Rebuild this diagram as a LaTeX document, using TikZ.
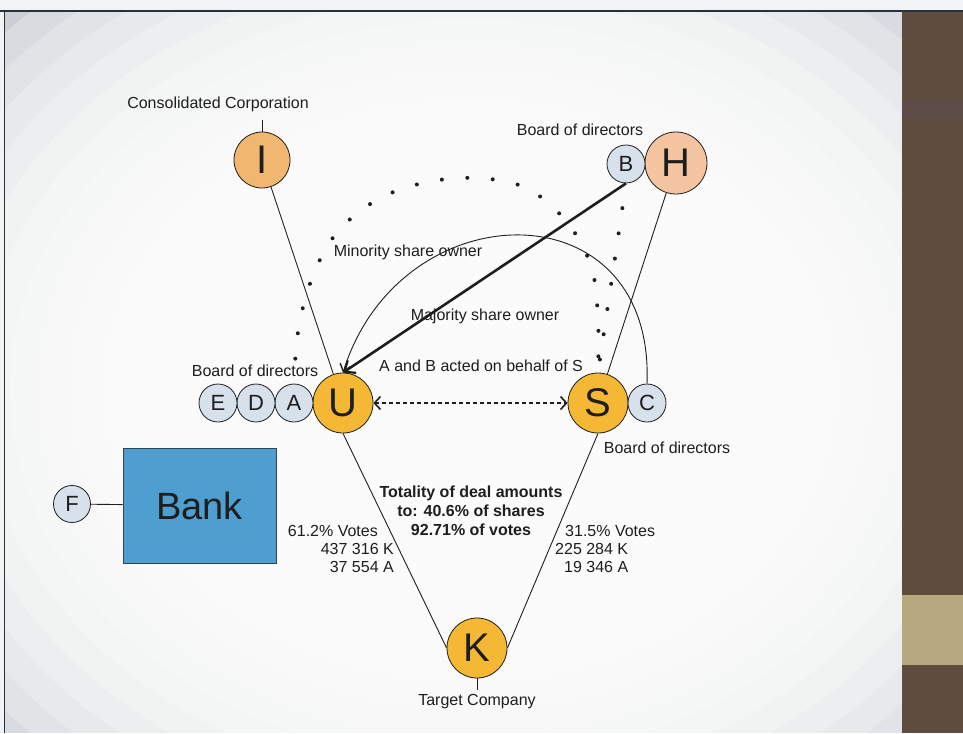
\documentclass[tikz,border=0pt]{standalone}
\usepackage{fontspec}
\setmainfont{Liberation Sans}
\usetikzlibrary{arrows.meta}

\definecolor{ink}{RGB}{30,30,30}
\definecolor{topgrey}{RGB}{242,243,245}
\definecolor{framedark}{RGB}{38,50,60}
\definecolor{panelgrey}{RGB}{204,208,214}
\definecolor{stripbrown}{RGB}{94,76,62}
\definecolor{stripviolet}{RGB}{92,78,92}
\definecolor{stripbeige}{RGB}{184,168,128}
\definecolor{gold}{RGB}{245,184,52}
\definecolor{iorange}{RGB}{241,182,112}
\definecolor{hpeach}{RGB}{245,196,160}
\definecolor{boardblue}{RGB}{214,225,236}
\definecolor{bankblue}{RGB}{78,158,208}
\definecolor{bankedge}{RGB}{45,70,90}

\begin{document}
\begin{tikzpicture}[x=1pt,y=-1pt,
  bigco/.style={circle, draw=ink, line width=0.8pt, minimum size=60pt,
    inner sep=0pt, text=ink, font=\fontsize{40}{40}\selectfont},
  smallco/.style={circle, draw=ink, line width=0.8pt, minimum size=38pt,
    inner sep=0pt, fill=boardblue, text=ink, font=\fontsize{22}{22}\selectfont},
  lbl/.style={font=\fontsize{16}{19}\selectfont, text=ink, inner sep=0pt},
  boldlbl/.style={font=\bfseries\fontsize{16}{19}\selectfont, text=ink,
    inner sep=0pt, align=center},
  bankbox/.style={rectangle, draw=bankedge, line width=0.8pt, fill=bankblue,
    minimum width=153pt, minimum height=115pt, inner sep=0pt, text=ink,
    font=\fontsize{38}{38}\selectfont},
  link/.style={draw=ink, line width=0.9pt},
  heavyarrow/.style={draw=ink, line width=2.6pt,
    -{Straight Barb[length=9pt,width=15pt,line width=2.2pt]}},
  arcarrow/.style={draw=ink, line width=0.9pt,
    -{Straight Barb[length=7pt,width=11pt,line width=1.4pt]}},
  dealarrow/.style={draw=ink, line width=1.6pt, dash pattern=on 4pt off 3pt,
    {Straight Barb[length=6pt,width=13pt,line width=1.6pt]}-{Straight Barb[length=6pt,width=13pt,line width=1.6pt]}},
  dotline/.style={draw=ink, line width=4pt, line cap=round,
    dash pattern=on 0pt off 25.5pt, dash phase=0.5pt}
]
\useasboundingbox (0,0) rectangle (963,733);

% page background: grey panel brightened towards its middle
\fill[topgrey] (0,0) rectangle (963,733);
\begin{scope}
  \clip (5,11) rectangle (902,733);
  \fill[panelgrey] (5,11) rectangle (902,733);
  \foreach \k in {0,...,13}{
    \fill[white, opacity=0.24] (470,390) ellipse [x radius={640-30*\k}, y radius={520-25*\k}];
  }
\end{scope}
% side strip and frame
\fill[stripbrown] (902,11) rectangle (963,733);
\fill[stripviolet, opacity=0.35] (902,100) rectangle (963,118);
\fill[stripbeige] (902,595) rectangle (963,665);
\draw[framedark, line width=2.5pt] (0,11) -- (963,11);
\draw[framedark, line width=1.5pt] (4.5,11) -- (4.5,733);

% companies
\node[bigco, fill=iorange, minimum size=56pt] (I) at (262,160) {I};
\node[bigco, fill=hpeach, minimum size=62pt] (H) at (676,163) {H};
\node[smallco] (B) at (626,164) {B};
\node[bigco, fill=gold] (U) at (343,403) {U};
\node[smallco] (A) at (294,403) {A};
\node[smallco] (D) at (256,403) {D};
\node[smallco] (E) at (218,403) {E};
\node[bigco, fill=gold] (S) at (598,403) {S};
\node[smallco] (C) at (647,403) {C};
\node[bigco, fill=gold] (K) at (477,648) {K};
\node[bankbox] (Bank) at (199.5,505.5) {Bank};
\node[smallco, minimum size=37pt] (F) at (72,504) {F};

% captions
\node[lbl] (ccLabel) at (218,104) {Consolidated Corporation};
\node[lbl] (boardH) at (580,130) {Board of directors};
\node[lbl] (boardU) at (255,371) {Board of directors};
\node[lbl] (boardS) at (667,448) {Board of directors};
\node[lbl] (minority) at (408,252) {Minority share owner};
\node[lbl] (majority) at (485,316) {Majority share owner};
\node[lbl] (actedFor) at (481,366) {A and B acted on behalf of S};
\node[lbl] (tcLabel) at (477,702) {Target Company};
\node[boldlbl] (deal) at (471,511) {Totality of deal amounts\\to: 40.6\% of shares\\92.71\% of votes};

\node[lbl, anchor=east] (uVotes) at (378,531) {61.2\% Votes};
\node[lbl, anchor=east] (uK) at (394,549) {437 316 K};
\node[lbl, anchor=east] (uA) at (394,567) {37 554 A};
\node[lbl, anchor=west] (sVotes) at (565,531) {31.5\% Votes};
\node[lbl, anchor=west] (sK) at (555,549) {225 284 K};
\node[lbl, anchor=west] (sA) at (564,567) {19 346 A};

% caption ticks
\coordinate (ccTick) at (262,120);
\coordinate (tcTick) at (477,690);
\draw[link] (ccTick) -- (I.north);
\draw[link] (K.south) -- (tcTick);

% ownership lines
\draw[link] (I) -- (U);
\draw[link] (H) -- (S);
\draw[link] (U.south) -- (K.west);
\draw[link] (S.south) -- (K.east);
\draw[link] (F) -- (Bank);

% dotted links of the board members acting for S
\draw[dotline] plot[smooth, tension=0.6] coordinates {(A.north) (298,332) (311,281)
  (335,235) (375,201) (423,183) (476,178) (526,188) (566,221) (591,266)
  (598,318) (S.north)};
\draw[dotline] (B.south) -- (S.north);

% share owner arrows
\draw[arcarrow] (C.north) .. controls (655,185) and (400,190) .. (U.north);
\draw[heavyarrow] (B.south) -- (U.north);

% deal between U and S
\draw[dealarrow] (U) -- (S);
\end{tikzpicture}
\end{document}
